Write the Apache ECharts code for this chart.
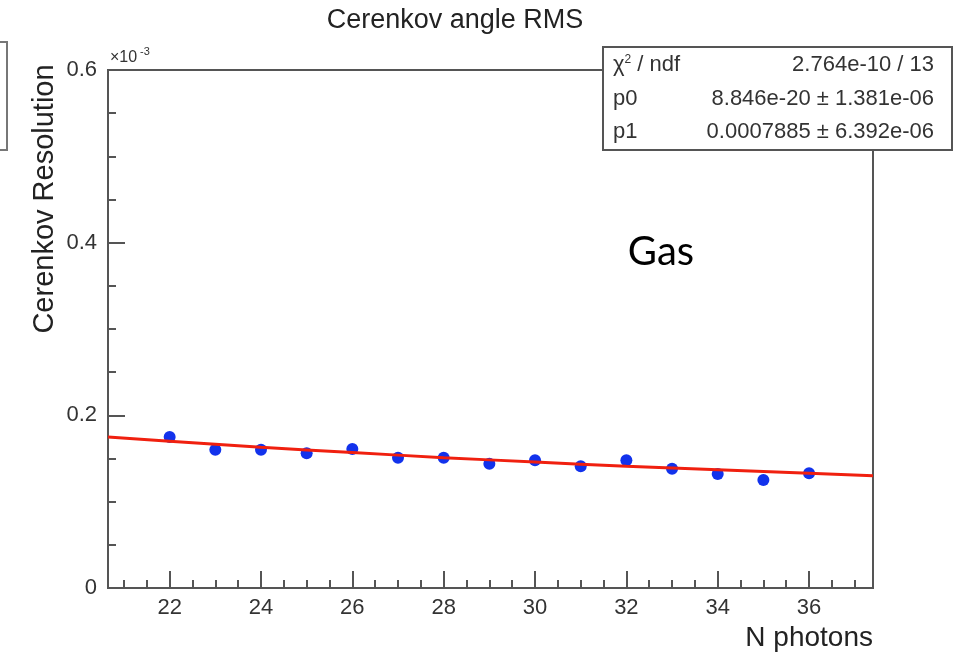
<!DOCTYPE html>
<html>
<head>
<meta charset="utf-8">
<script src="https://cdn.jsdelivr.net/npm/echarts@6/dist/echarts.min.js"></script>
<style>
  html, body {margin: 0; padding: 0; background: #fff;}
  #chart {width: 955px; height: 665px;}
</style>
</head>
<body>
<div id="chart"></div>
<script>
// measured points (resolution in units of 1e-3)
const nPhotons = [22, 23, 24, 25, 26, 27, 28, 29, 30, 31, 32, 33, 34, 35, 36];
const resolution = [0.175, 0.160, 0.160, 0.156, 0.161, 0.151, 0.151, 0.144, 0.148, 0.141, 0.148, 0.138, 0.132, 0.125, 0.133];

// fit curve
const fitX = [20.65, 22, 24, 26, 28, 30, 32, 34, 36, 37.4];
const fitY = [0.175, 0.170, 0.163, 0.157, 0.151, 0.146, 0.141, 0.137, 0.133, 0.130];

const xMajorTicks = [22, 24, 26, 28, 30, 32, 34, 36];
const xMinorTicks = [21, 21.5, 22.5, 23, 23.5, 24.5, 25, 25.5, 26.5, 27, 27.5, 28.5, 29, 29.5,
  30.5, 31, 31.5, 32.5, 33, 33.5, 34.5, 35, 35.5, 36.5, 37];

const statRows = [
  ["{a|χ}{s|2}{a| / ndf}", "2.764e-10 / 13"],
  ["p0", "8.846e-20 ± 1.381e-06"],
  ["p1", "0.0007885 ± 6.392e-06"],
];

const AXIS = "#555";
const FONT = "Liberation Sans";

const chart = echarts.init(document.getElementById("chart"));

const statTexts = [];
statRows.forEach(([left, right], i) => {
  const y = 65 + i * 33.5;
  statTexts.push({
    type: "text", x: 613, y, z: 102,
    style: {
      text: left, fill: "#333", verticalAlign: "middle", font: `22px "${FONT}"`,
      rich: {
        a: {fontSize: 22, fontFamily: FONT, fill: "#333"},
        s: {fontSize: 12, fontFamily: FONT, fill: "#333", verticalAlign: "top", padding: [0, 0, 10, 0]},
      },
    },
  });
  statTexts.push({
    type: "text", x: 934, y, z: 102,
    style: {text: right, fill: "#333", align: "right", verticalAlign: "middle", font: `22px "${FONT}"`},
  });
});

const option = {
  animation: false,
  grid: {
    left: 108, right: 82, top: 70, bottom: 77,
    show: true, borderColor: AXIS, borderWidth: 2, backgroundColor: "transparent",
  },
  xAxis: [
    {
      type: "value", min: 20.65, max: 37.4, position: "bottom",
      axisLine: {lineStyle: {color: AXIS, width: 2}},
      axisTick: {inside: true, length: 17, customValues: xMajorTicks, lineStyle: {color: AXIS, width: 2}},
      axisLabel: {customValues: xMajorTicks, fontSize: 22, color: "#333", fontFamily: FONT, margin: 9},
      splitLine: {show: false},
    },
    {
      type: "value", min: 20.65, max: 37.4, position: "bottom",
      axisLine: {show: false},
      axisTick: {inside: true, length: 8, customValues: xMinorTicks, lineStyle: {color: AXIS, width: 2}},
      axisLabel: {show: false},
      splitLine: {show: false},
    },
  ],
  yAxis: {
    type: "value", min: 0, max: 0.6, interval: 0.2,
    axisLine: {show: true, lineStyle: {color: AXIS, width: 2}},
    axisTick: {show: true, inside: true, length: 17, lineStyle: {color: AXIS, width: 2}},
    minorTick: {show: true, splitNumber: 4, length: 8, lineStyle: {color: AXIS, width: 2}},
    axisLabel: {fontSize: 22, color: "#333", fontFamily: FONT, margin: 11},
    splitLine: {show: false},
  },
  series: [
    {
      type: "scatter",
      data: nPhotons.map((x, i) => [x, resolution[i]]),
      symbolSize: 12,
      itemStyle: {color: "#1232ec", opacity: 1},
      z: 2,
    },
    {
      type: "line",
      data: fitX.map((x, i) => [x, fitY[i]]),
      smooth: true,
      showSymbol: false,
      lineStyle: {color: "#f0200f", width: 3},
      z: 3,
    },
  ],
  graphic: [
    {
      type: "text", x: 455, y: 21,
      style: {text: "Cerenkov angle RMS", fill: "#222", align: "center", verticalAlign: "middle", font: `27px "${FONT}"`},
    },
    {
      type: "text", x: 45, y: 199, rotation: Math.PI / 2,
      style: {text: "Cerenkov Resolution", fill: "#222", align: "center", verticalAlign: "middle", font: `29px "${FONT}"`},
    },
    {
      type: "text", x: 873, y: 638,
      style: {text: "N photons", fill: "#222", align: "right", verticalAlign: "middle", font: `28px "${FONT}"`},
    },
    {
      type: "text", x: 110, y: 58,
      style: {text: "×10", fill: "#333", verticalAlign: "middle", font: `16px "${FONT}"`},
    },
    {
      type: "text", x: 140, y: 52,
      style: {text: "-3", fill: "#333", verticalAlign: "middle", font: `11px "${FONT}"`},
    },
    {
      type: "rect", z: 100,
      shape: {x: 603, y: 47, width: 349, height: 103},
      style: {fill: "#fff", stroke: AXIS, lineWidth: 2},
    },
    ...statTexts,
    {
      type: "text", x: 661, y: 252,
      style: {text: "Gas", fill: "#000", align: "center", verticalAlign: "middle", font: `40px Lato`},
    },
    {
      type: "rect",
      shape: {x: -10, y: 42, width: 17, height: 108},
      style: {fill: "none", stroke: "#777", lineWidth: 2},
    },
  ],
};

chart.setOption(option);
</script>
</body>
</html>
